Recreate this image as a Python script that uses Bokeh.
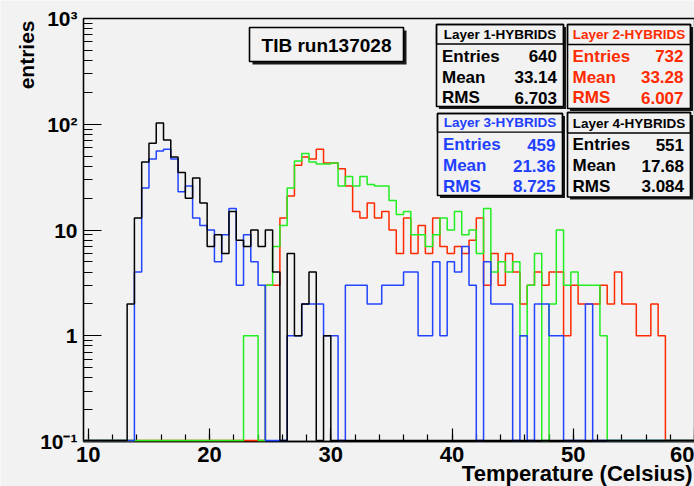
import numpy as np
from bokeh.plotting import figure
from bokeh.models import Range1d, FixedTicker, Label, BoxAnnotation
from bokeh.embed import file_html
from bokeh.resources import INLINE

# ---------------- data ----------------
# histogram binning: 84 bins of 0.6 C between 9.6 and 60.0
x_min, x_max, n_bins = 9.6, 60.0, 84
bin_edges = np.linspace(x_min, x_max, n_bins + 1)

# Layer 1-HYBRIDS (red line)
layer1_counts = ([0] * 25 +
                 [3, 3, 13, 21, 41, 49, 47, 58, 43, 43,
                  38, 26, 15, 13, 18, 13, 15, 10, 6, 13,
                  6, 11, 6, 13, 7, 6, 7, 6, 8, 13,
                  3, 6, 3, 6, 4, 2, 3, 4, 3, 4,
                  4, 1, 3, 2, 2, 2, 3, 2, 4, 2,
                  2, 1, 1, 2, 1] + [0] * 4)
# Layer 2-HYBRIDS (green line)
layer2_counts = ([0] * 22 +
                 [1, 1, 0, 3, 7, 11, 25, 45, 53, 44,
                  42, 42, 43, 26, 32, 26, 32, 27, 26, 26,
                  19, 14, 15, 9, 9, 7, 9, 13, 10, 15,
                  9, 10, 6, 16, 4, 5, 4, 5, 1, 3,
                  6, 0, 2, 10, 3, 4, 3, 3, 3, 1] + [0] * 12)
# Layer 3-HYBRIDS (blue line)
layer3_counts = ([0] * 7 +
                 [4, 25, 47, 56, 58, 47, 23, 26, 13, 11,
                  10, 5, 9, 16, 3, 9, 5, 3, 0, 0,
                  0, 1, 1, 2, 2, 2, 1, 1, 0, 3,
                  3, 3, 2, 2, 3, 3, 3, 4, 4, 1,
                  1, 5, 1, 5, 4, 7, 3, 0, 5, 2,
                  2, 2, 0, 1, 0, 2, 2, 1, 1, 0,
                  0, 0, 2] + [0] * 14)
# Layer 4-HYBRIDS (black line)
layer4_counts = ([0] * 6 +
                 [2, 13, 44, 66, 103, 71, 49, 35, 20, 31,
                  18, 7, 9, 6, 15, 8, 7, 10, 7, 10,
                  4, 0, 6, 1, 2, 4, 0, 1] + [0] * 50)

layer_names = ["Layer 1-HYBRIDS", "Layer 2-HYBRIDS", "Layer 3-HYBRIDS", "Layer 4-HYBRIDS"]
layer_entries = ["640", "732", "459", "551"]
layer_means = ["33.14", "33.28", "21.36", "17.68"]
layer_rms = ["6.703", "6.007", "8.725", "3.084"]
stat_labels = ["Entries", "Mean", "RMS"]

x_ticks = [10, 20, 30, 40, 50, 60]
y_ticks = [0.1, 1, 10, 100, 1000]
y_tick_labels = {0.1: "10\u207b\u00b9", 1: "1", 10: "10", 100: "10\u00b2", 1000: "10\u00b3"}

title_text = "TIB run137028"
x_title = "Temperature (Celsius)"
y_title = "entries"

# ---------------- styling ----------------
BG = "#f2f2f2"
FONT = "Liberation Sans"
line_colors = ["#ff2a00", "#22ee22", "#2244ff", "#000000"]
text_colors = ["#000000", "#ff2a00", "#1f3fff", "#000000"]

W, H = 694, 486
FL, FR, FT, FB = 83, 694, 18, 441      # pixel position of the axes frame
y_lo, y_hi = 0.1, 1000.0


def fx(px):
    return x_min + (px - FL) * (x_max - x_min) / (FR - FL)


def fy(py):
    return 10 ** (np.log10(y_hi) - (py - FT) * (np.log10(y_hi) - np.log10(y_lo)) / (FB - FT))


# the drawing area covers the whole canvas; the axes sit at fixed places inside it
p = figure(width=W, height=H, y_axis_type="log",
           x_range=Range1d(fx(0), fx(W)), y_range=Range1d(fy(H), fy(0)),
           output_backend="svg", toolbar_location=None,
           min_border_left=0, min_border_right=0, min_border_top=0, min_border_bottom=0)
p.background_fill_color = BG
p.border_fill_color = BG
p.outline_line_color = None
p.xgrid.visible = False
p.ygrid.visible = False

p.xaxis.fixed_location = y_lo
p.yaxis.fixed_location = x_min
p.xaxis.bounds = (x_min, x_max)
p.yaxis.bounds = (y_lo, y_hi)
p.xaxis.ticker = FixedTicker(ticks=x_ticks,
                             minor_ticks=[v for v in range(10, 61, 2)])
p.yaxis.ticker = FixedTicker(ticks=y_ticks,
                             minor_ticks=[d * m for d in [0.1, 1, 10, 100] for m in range(2, 10)])
p.yaxis.major_label_overrides = y_tick_labels
for ax in (p.xaxis, p.yaxis):
    ax.axis_line_color = "black"
    ax.axis_line_width = 1.3
    ax.major_tick_line_color = "black"
    ax.minor_tick_line_color = "black"
    ax.major_tick_line_width = 1.2
    ax.minor_tick_line_width = 1.2
    ax.major_tick_out = 0
    ax.minor_tick_out = 0
    ax.major_label_text_font = FONT
    ax.major_label_text_font_style = "bold"
    ax.major_label_text_color = "black"
p.xaxis.major_tick_in = 13
p.xaxis.minor_tick_in = 7
p.yaxis.major_tick_in = 18
p.yaxis.minor_tick_in = 9
p.xaxis.major_label_text_font_size = "22px"
p.yaxis.major_label_text_font_size = "21px"
p.xaxis.major_label_standoff = 5
p.yaxis.major_label_standoff = 6

# frame border
p.add_layout(BoxAnnotation(left=x_min, right=x_max, bottom=y_lo, top=y_hi,
                           fill_alpha=0, line_color="black", line_alpha=1, line_width=1.3))

# histograms (zero bins drawn at the bottom of the frame, as ROOT does on log axes)
log_floor = 0.102
for counts, col in zip([layer1_counts, layer2_counts, layer3_counts, layer4_counts], line_colors):
    c = np.asarray(counts, dtype=float)
    yv = np.where(c > 0, c, log_floor)
    yv = np.append(yv, yv[-1])
    p.step(x=bin_edges, y=yv, mode="after", line_color=col, line_width=1.5, level="overlay")


def box(l, r, t, b, fill=BG, shadow=3, lw=1.6):
    if shadow:
        p.add_layout(BoxAnnotation(left=fx(l + shadow), right=fx(r + shadow),
                                   top=fy(t + shadow), bottom=fy(b + shadow),
                                   fill_color="#1a1a1a", fill_alpha=1, line_color=None,
                                   level="overlay"))
    p.add_layout(BoxAnnotation(left=fx(l), right=fx(r), top=fy(t), bottom=fy(b),
                               fill_color=fill, fill_alpha=1, line_color="black",
                               line_alpha=1, line_width=lw, level="overlay"))


def label(px, py, text, size, color="black", align="left", baseline="middle", angle=0.0):
    p.add_layout(Label(x=fx(px), y=fy(py), text=text, text_font=FONT,
                       text_font_style="bold", text_font_size=size, text_color=color,
                       text_align=align, text_baseline=baseline, angle=angle,
                       level="overlay"))


# title box
box(249, 403, 27, 61)
label(326, 44.5, title_text, "19px", align="center")

# stat boxes: (left, right, top, bottom, header_y, title_y, row_ys, text_left, text_right)
stat_geom = [
    (436, 563, 24, 106, 43.5, 33.8, [55.7, 76.7, 97.3], 441.5, 556.5),
    (567, 690, 24, 108, 44.0, 34.0, [55.7, 76.7, 97.3], 572.0, 683.0),
    (437, 562, 113, 195, 131.7, 122.0, [144.3, 165.3, 185.7], 442.5, 555.0),
    (567, 690, 112, 196.5, 132.5, 122.5, [144.3, 165.3, 185.7], 572.0, 683.5),
]
for i, (l, r, t, b, hy, ty, rys, tl, tr) in enumerate(stat_geom):
    box(l, r, t, b, shadow=2.5, lw=1.6)
    p.add_layout(BoxAnnotation(left=fx(l), right=fx(r), top=fy(t), bottom=fy(hy),
                               fill_alpha=0, line_color="black", line_alpha=1,
                               line_width=1.3, level="overlay"))
    label((l + r) / 2, ty, layer_names[i], "13.5px", color=text_colors[i], align="center")
    vals = [layer_entries[i], layer_means[i], layer_rms[i]]
    for name, v, ry in zip(stat_labels, vals, rys):
        label(tl, ry, name, "17px", color=text_colors[i], align="left")
        label(tr, ry, v, "17px", color=text_colors[i], align="right")

# axis titles
label(692, 472.5, x_title, "22px", align="right", baseline="middle")
label(26, 20, y_title, "21px", align="right", baseline="middle", angle=np.pi / 2)

open("out.html", "w").write(file_html(p, INLINE))
